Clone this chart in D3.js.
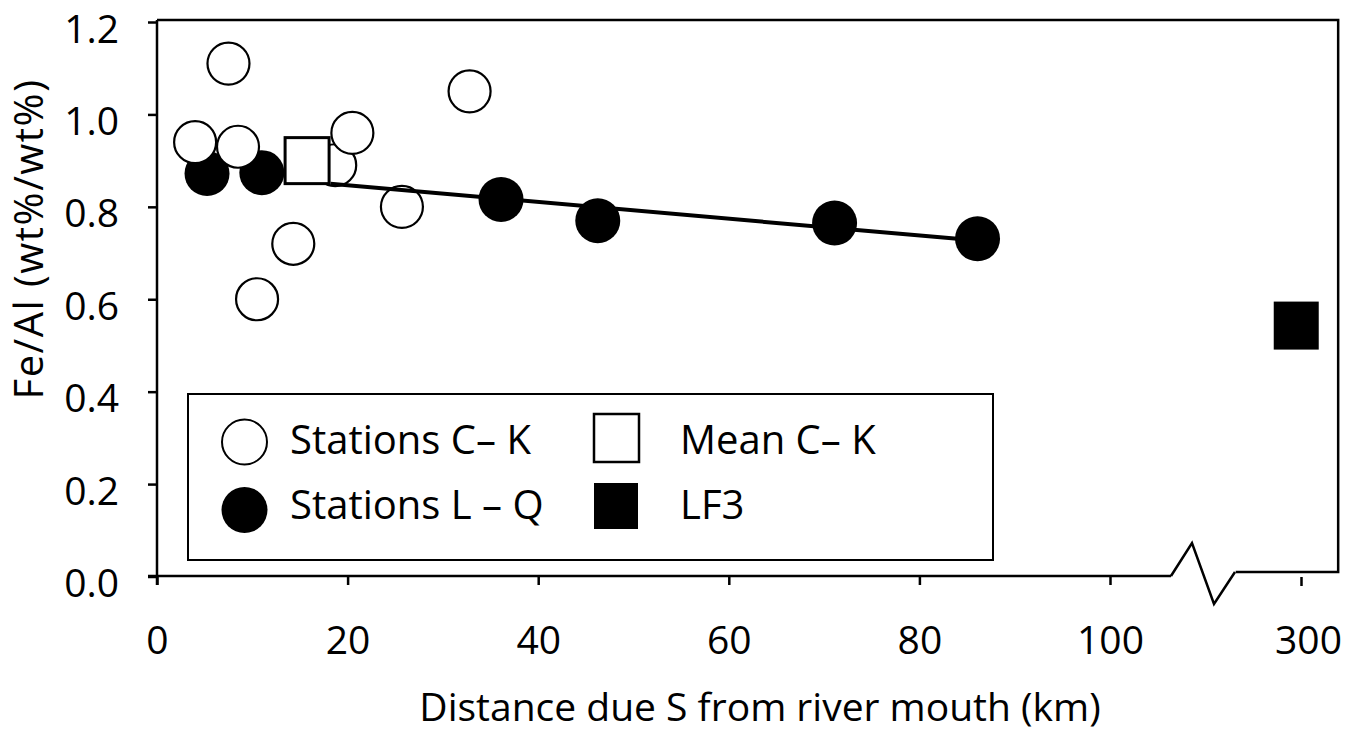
<!DOCTYPE html>
<html><head><meta charset="utf-8">
<script src="https://cdn.jsdelivr.net/npm/d3@7"></script>
<style>
body{margin:0;background:#fff}
svg{display:block}
text{font-family:"Open Sans",sans-serif;fill:#000}
</style>
</head><body>
<svg id="c" width="1360" height="733"></svg>
<script>
// ---- data ----
const xTickValues = [0, 20, 40, 60, 80, 100];
const breakTickValues = [300];
const yTickValues = [0, 0.2, 0.4, 0.6, 0.8, 1.0, 1.2];

const openKm    = [4.0, 7.5, 8.5, 18.7, 20.5, 25.7, 14.3, 10.5, 32.8];
const openFeAl  = [0.94, 1.11, 0.93, 0.89, 0.96, 0.80, 0.72, 0.60, 1.05];

const filledKm   = [5.25, 11.0, 36.1, 46.25, 71.1, 86.1];
const filledFeAl = [0.872, 0.874, 0.816, 0.770, 0.765, 0.731];

const meanKm   = [15.75];
const meanFeAl = [0.90];

const lf3Km   = [299.5];
const lf3FeAl = [0.543];

const trendKm   = [18.2, 86.1];
const trendFeAl = [0.850, 0.727];

const legendLabels = ["Stations C\u2013 K", "Stations L \u2013 Q", "Mean C\u2013 K", "LF3"];
const xTitle = "Distance due S from river mouth (km)";
const yTitle = "Fe/Al (wt%/wt%)";

// ---- scales ----
const svg = d3.select("#c");
const x = d3.scaleLinear().domain([0, 100]).range([157, 1110]);
const pxPerKm = (x(100) - x(0)) / 100;
const xb = d3.scaleLinear().domain([290, 310]).range([1301 - 10 * pxPerKm, 1301 + 10 * pxPerKm]);
const y = d3.scaleLinear().domain([0, 1.2]).range([576.5, 22]);

const FS = 40, TFS = 39;
const tick = 9;
const axisEndKm = 106.4;
const frameRightKm = 303.9;
const x0 = x(0), yTop = 20, yAx = 576;

// ---- frame (top & right) ----
svg.append("path")
  .attr("d", `M${x0},${yTop}H${xb(frameRightKm)}V${y(0) - 4.5}H${xb(290) + 30}`)
  .attr("fill", "none").attr("stroke", "#000").attr("stroke-width", 2.5);

// break zigzag
const xe = x(axisEndKm);
svg.append("path")
  .attr("d", `M${xe},${yAx}L${xe + 21},${yAx - 33}L${xe + 43},${yAx + 28}L${xe + 64},${y(0) - 4.5}`)
  .attr("fill", "none").attr("stroke", "#000").attr("stroke-width", 2.5).attr("stroke-linejoin", "miter");

// ---- x axis ----
svg.append("line").attr("x1", x0 - tick).attr("x2", xe).attr("y1", yAx).attr("y2", yAx)
  .attr("stroke", "#000").attr("stroke-width", 2.5);
const gx = svg.append("g").attr("transform", `translate(0,${yAx})`)
  .call(d3.axisBottom(x).tickValues(xTickValues).tickSize(tick).tickFormat(d3.format("d")));
gx.select(".domain").remove();
gx.selectAll("line").attr("stroke-width", 2.5);
gx.selectAll("text").attr("y", 78).attr("dy", 0).style("font-size", TFS + "px").style("font-family", "Open Sans");

const gxb = svg.append("g").attr("transform", `translate(0,${yAx + 1})`)
  .call(d3.axisBottom(xb).tickValues(breakTickValues).tickSize(tick).tickFormat(d3.format("d")));
gxb.select(".domain").remove();
gxb.selectAll("line").attr("stroke-width", 2.5);
gxb.selectAll("text").attr("y", 77).attr("dy", 0).attr("dx", 7).style("font-size", TFS + "px").style("font-family", "Open Sans");

// ---- y axis ----
svg.append("line").attr("x1", x0).attr("x2", x0).attr("y1", yTop).attr("y2", yAx + tick)
  .attr("stroke", "#000").attr("stroke-width", 2.5);
const gy = svg.append("g").attr("transform", `translate(${x0},0)`)
  .call(d3.axisLeft(y).tickValues(yTickValues).tickSize(tick).tickPadding(29).tickFormat(d3.format(".1f")));
gy.select(".domain").remove();
gy.selectAll("line").attr("stroke-width", 2.5);
gy.selectAll("text").attr("dy", 0).attr("y", 20).style("font-size", TFS + "px").style("font-family", "Open Sans");

// ---- titles ----
svg.append("text").attr("x", 760).attr("y", 721).attr("text-anchor", "middle")
  .style("font-size", TFS + "px").text(xTitle);
svg.append("text").attr("transform", "translate(43,239) rotate(-90)").attr("text-anchor", "middle")
  .style("font-size", FS + "px").style("letter-spacing", "1.5px").text(yTitle);

// ---- marks ----
const filled = d3.zip(filledKm, filledFeAl);
const open = d3.zip(openKm, openFeAl);

svg.append("g").selectAll("circle").data(filled).join("circle")
  .attr("cx", d => x(d[0])).attr("cy", d => y(d[1])).attr("r", 22.5).attr("fill", "#000");

svg.append("g").selectAll("circle").data(open).join("circle")
  .attr("cx", d => x(d[0])).attr("cy", d => y(d[1])).attr("r", 21)
  .attr("fill", "#fff").attr("stroke", "#000").attr("stroke-width", 2.2);

svg.append("path").datum(d3.zip(trendKm, trendFeAl))
  .attr("d", d3.line().x(d => x(d[0])).y(d => y(d[1])))
  .attr("fill", "none").attr("stroke", "#000").attr("stroke-width", 4);

const sq = 44;
svg.append("g").selectAll("rect").data(d3.zip(meanKm, meanFeAl)).join("rect")
  .attr("x", d => x(d[0]) - sq / 2).attr("y", d => y(d[1]) - sq / 2 - 1)
  .attr("width", sq).attr("height", sq + 2)
  .attr("fill", "#fff").attr("stroke", "#000").attr("stroke-width", 3);

svg.append("g").selectAll("rect").data(d3.zip(lf3Km, lf3FeAl)).join("rect")
  .attr("x", d => xb(d[0]) - 22.5).attr("y", d => y(d[1]) - 24)
  .attr("width", 45).attr("height", 48).attr("fill", "#000");

// ---- legend ----
const lg = svg.append("g");
lg.append("rect").attr("x", 188).attr("y", 394).attr("width", 805).attr("height", 166)
  .attr("fill", "#fff").attr("stroke", "#000").attr("stroke-width", 2);
lg.append("circle").attr("cx", 244.5).attr("cy", 442).attr("r", 22.5)
  .attr("fill", "#fff").attr("stroke", "#000").attr("stroke-width", 2);
lg.append("circle").attr("cx", 244.5).attr("cy", 510).attr("r", 23).attr("fill", "#000");
lg.append("rect").attr("x", 594).attr("y", 414).attr("width", 45).attr("height", 48)
  .attr("fill", "#fff").attr("stroke", "#000").attr("stroke-width", 2.5);
lg.append("rect").attr("x", 594).attr("y", 483).attr("width", 44).attr("height", 46).attr("fill", "#000");
const lpos = [[290, 454], [290, 519], [680, 454], [680, 519]];
lg.selectAll("text").data(legendLabels).join("text")
  .attr("x", (d, i) => lpos[i][0]).attr("y", (d, i) => lpos[i][1])
  .style("font-size", FS + "px").text(d => d);
</script>
</body></html>
